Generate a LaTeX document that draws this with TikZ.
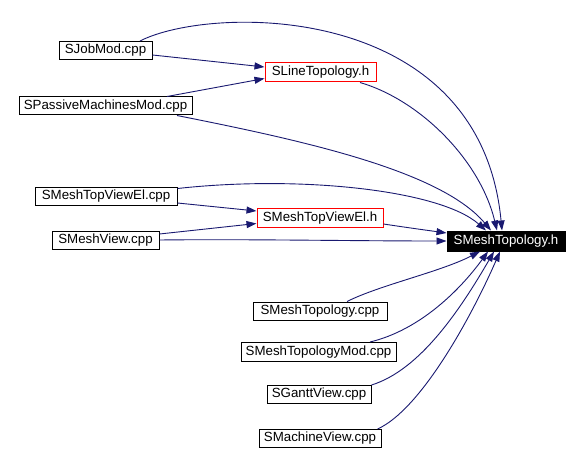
\documentclass[tikz,border=0pt]{standalone}
\usepackage{fontspec}
\setmainfont{Liberation Sans}
\usetikzlibrary{arrows.meta}
\definecolor{edgeblue}{HTML}{191970}
\tikzset{
  box/.style={draw=black, line width=1pt, rectangle, inner sep=0pt, minimum height=18pt, font=\fontsize{13.3}{15}\selectfont},
  redbox/.style={box, draw=red},
  dark/.style={box, fill=black, text=white, minimum height=20pt},
  dep/.style={draw=edgeblue, line width=0.9pt, -{Triangle[length=10pt,width=7pt]}},
}
\begin{document}
\begin{tikzpicture}[x=1pt,y=-1pt]
\useasboundingbox (0,0) rectangle (580,454);
\node[box, minimum width=93pt] (jm) at (105.5,50.5) {SJobMod.cpp};
\node[box, minimum width=173pt] (pm) at (105.5,106) {SPassiveMachinesMod.cpp};
\node[redbox, minimum width=111pt, minimum height=19pt] (lt) at (320.5,72.5) {SLineTopology.h};
\node[box, minimum width=142pt] (tc) at (106,196.5) {SMeshTopViewEl.cpp};
\node[box, minimum width=107pt] (mv) at (105.5,240) {SMeshView.cpp};
\node[redbox, minimum width=126pt] (th) at (320,218) {SMeshTopViewEl.h};
\node[dark, minimum width=118pt] (mt) at (506,241) {SMeshTopology.h};
\node[box, minimum width=134pt] (mc) at (320,311) {SMeshTopology.cpp};
\node[box, minimum width=155pt, minimum height=19pt] (mm) at (318.5,352) {SMeshTopologyMod.cpp};
\node[box, minimum width=104pt] (gv) at (319,394.5) {SGanttView.cpp};
\node[box, minimum width=122pt] (mw) at (320,438.5) {SMachineView.cpp};

% to SLineTopology.h
\draw[dep] ([yshift=-4.5pt]jm.east) -- ([yshift=5.5pt]lt.west);
\draw[dep] ([xshift=61.5pt]pm.north) -- ([yshift=-6pt]lt.west);
% to SMeshTopViewEl.h
\draw[dep] ([yshift=-6.5pt]tc.east) -- ([yshift=7pt]th.west);
\draw[dep] ([yshift=6pt]mv.east) -- ([yshift=-5.5pt]th.west);
% to SMeshTopology.h from above
\draw[dep] ([xshift=34.5pt]jm.north) .. controls (210,5) and (480,0) .. ([xshift=-4pt]mt.north);
\draw[dep] ([xshift=39.5pt]lt.south) .. controls (420,100) and (480,160) .. ([xshift=-9pt]mt.north);
\draw[dep] ([xshift=71.5pt]pm.south) .. controls (300,140) and (440,170) .. ([xshift=-15pt]mt.north);
\draw[dep] ([yshift=8pt]tc.east) .. controls (300,175) and (440,190) .. ([xshift=-20pt]mt.north);
\draw[dep] ([yshift=-6pt]th.east) .. controls (410,228) and (425,230) .. ([yshift=8pt]mt.west);
\draw[dep] (mv.east) .. controls (250,239) and (350,241) .. (mt.west);
% to SMeshTopology.h from below
\draw[dep] ([xshift=27pt]mc.north) .. controls (380,285) and (440,272) .. ([xshift=-26pt]mt.south);
\draw[dep] ([xshift=51.5pt]mm.north) .. controls (420,330) and (460,290) .. ([xshift=-18pt]mt.south);
\draw[dep] (gv.north east) .. controls (420,370) and (460,310) .. ([xshift=-12pt]mt.south);
\draw[dep] ([xshift=-4pt]mw.north east) .. controls (420,410) and (470,320) .. ([xshift=-6pt]mt.south);
\end{tikzpicture}
\end{document}
